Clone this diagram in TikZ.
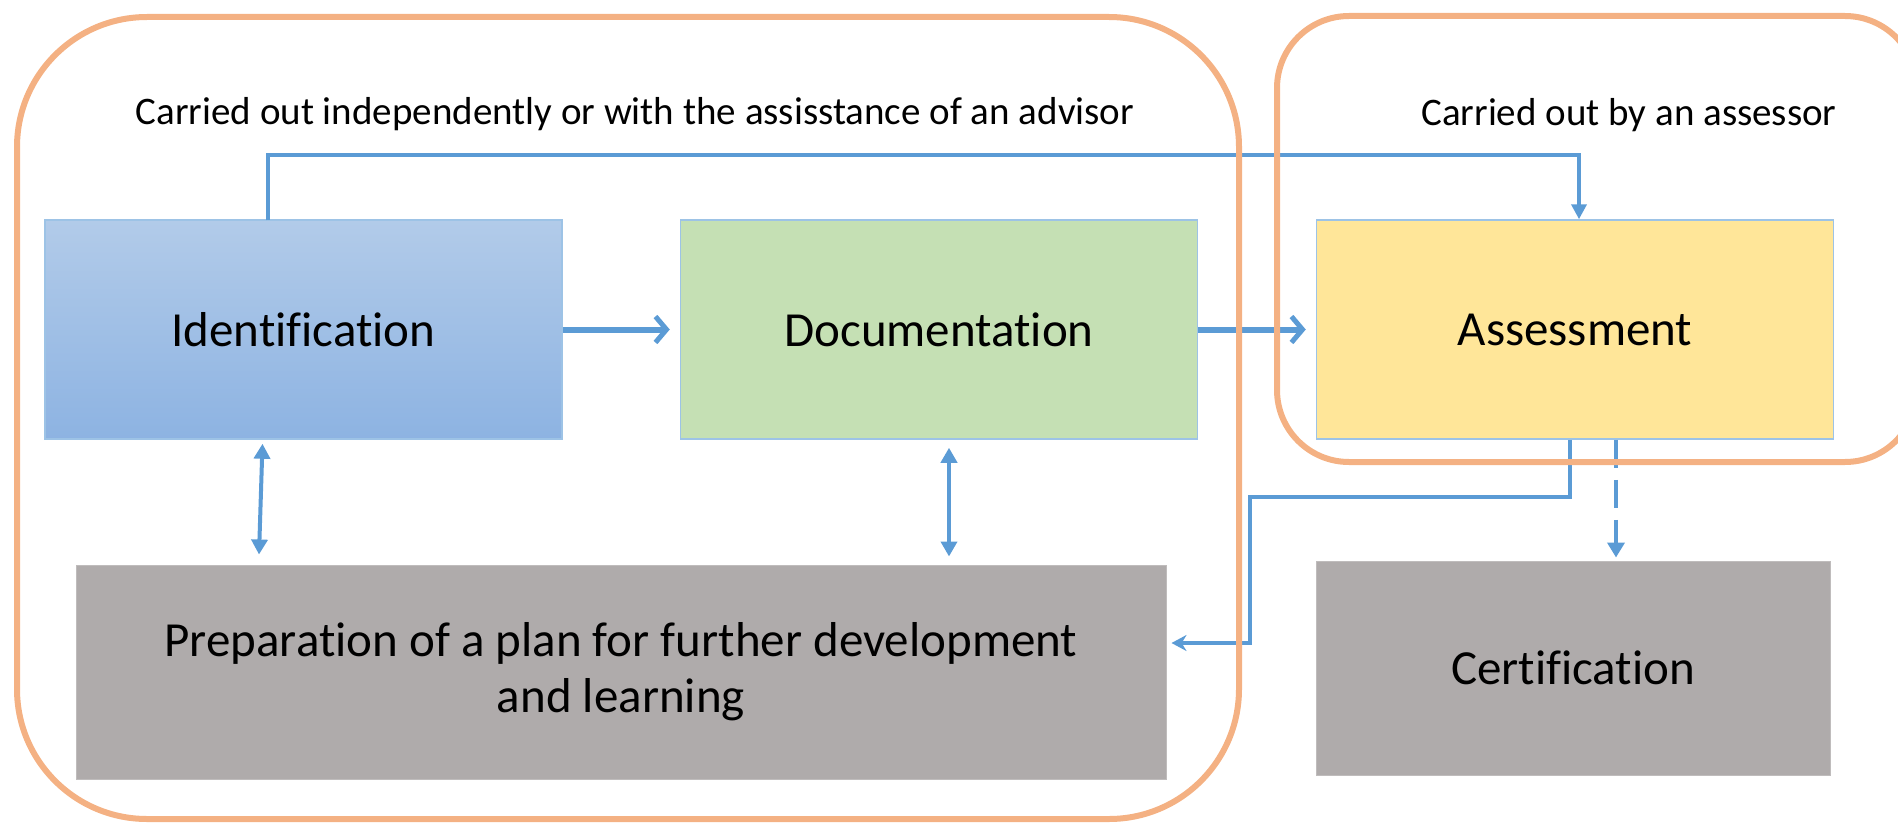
\documentclass[tikz,border=0pt]{standalone}
\usepackage{fontspec}
\setmainfont{Carlito}[Ligatures=NoCommon]
\usetikzlibrary{arrows.meta}
\definecolor{orng}{HTML}{F4B183}
\definecolor{conblue}{HTML}{5B9BD5}
\definecolor{bordblue}{HTML}{9DC3E6}
\definecolor{idtop}{HTML}{B2CBE9}
\definecolor{idbot}{HTML}{8DB3E2}
\definecolor{docfill}{HTML}{C5E0B4}
\definecolor{assfill}{HTML}{FFE699}
\definecolor{grayfill}{HTML}{AFABAB}
\begin{document}
\begin{tikzpicture}[x=1pt,y=-1pt,
  procbox/.style={draw=bordblue, line width=1.5pt, minimum width=517pt, minimum height=219pt,
    inner sep=0pt, font=\fontsize{49}{56}\selectfont, align=center},
  graybox/.style={fill=grayfill, draw=grayfill!80!white, line width=1pt, inner sep=0pt,
    minimum height=214pt, font=\fontsize{49}{56}\selectfont, align=center},
  titletext/.style={font=\fontsize{39}{44}\selectfont, anchor=base, inner sep=0pt},
  group/.style={draw=orng, line width=6pt},
  thickarrow/.style={draw=conblue, line width=6pt, -{Straight Barb[length=11pt,width=26pt,line width=5pt]}},
  conn/.style={draw=conblue, line width=4.5pt},
  dblarrow/.style={draw=conblue, line width=4pt, {Triangle[length=15pt,width=16pt]}-{Triangle[length=15pt,width=16pt]}},
]
\useasboundingbox (0,0) rectangle (1898,824);
\clip (0,0) rectangle (1898,824);

% boxes
\node[procbox, top color=idtop, bottom color=idbot] (ident) at (303.5,329.5) {Identification};
\node[procbox, fill=docfill] (doc) at (939,329.5) {Documentation};
\node[procbox, fill=assfill] (ass) at (1575,329.5) {Assessment};
\node[graybox, minimum width=1090pt] (prep) at (621,672) {Preparation of a plan for further development\\and learning};
\node[graybox, minimum width=514pt] (cert) at (1573,668) {Certification};

% titles
\node[titletext] (tleft) at (635,125) {Carried out independently or with the assisstance of an advisor};
\node[titletext] (tright) at (1629,126) {Carried out by an assessor};

% connectors
\draw[thickarrow] (ident.east) -- ([xshift=-10pt]doc.west);
\draw[thickarrow] (doc.east) -- ([xshift=-10pt]ass.west);

\coordinate (topl) at (268,155);
\draw[conn, -{Triangle[length=15pt,width=15pt]}] ([xshift=-35.5pt,yshift=-1pt]ident.north) -- (topl) -| ([xshift=4pt]ass.north);

\draw[dblarrow] ([xshift=-41pt,yshift=-4pt]ident.south) -- ([xshift=-362pt,yshift=10pt]prep.north);
\draw[dblarrow] ([xshift=10pt,yshift=-8pt]doc.south) -- ([xshift=328pt,yshift=8pt]prep.north);

\coordinate (ret) at (1250,497);
\draw[conn, -{Stealth[length=15pt,width=16pt]}] ([xshift=-5pt]ass.south) |- (ret) |- ([xshift=5pt,yshift=29pt]prep.east);

\draw[conn, line width=4pt, dash pattern=on 28pt off 12pt, -{Triangle[length=15pt,width=17pt]}]
  ([xshift=41pt]ass.south) -- ([xshift=43pt,yshift=3pt]cert.north);

% group frames
\draw[group, rounded corners=130pt] (17,17) rectangle (1239,819);
\draw[group, rounded corners=72pt] (1277,16) rectangle (1917,462);
\end{tikzpicture}
\end{document}
